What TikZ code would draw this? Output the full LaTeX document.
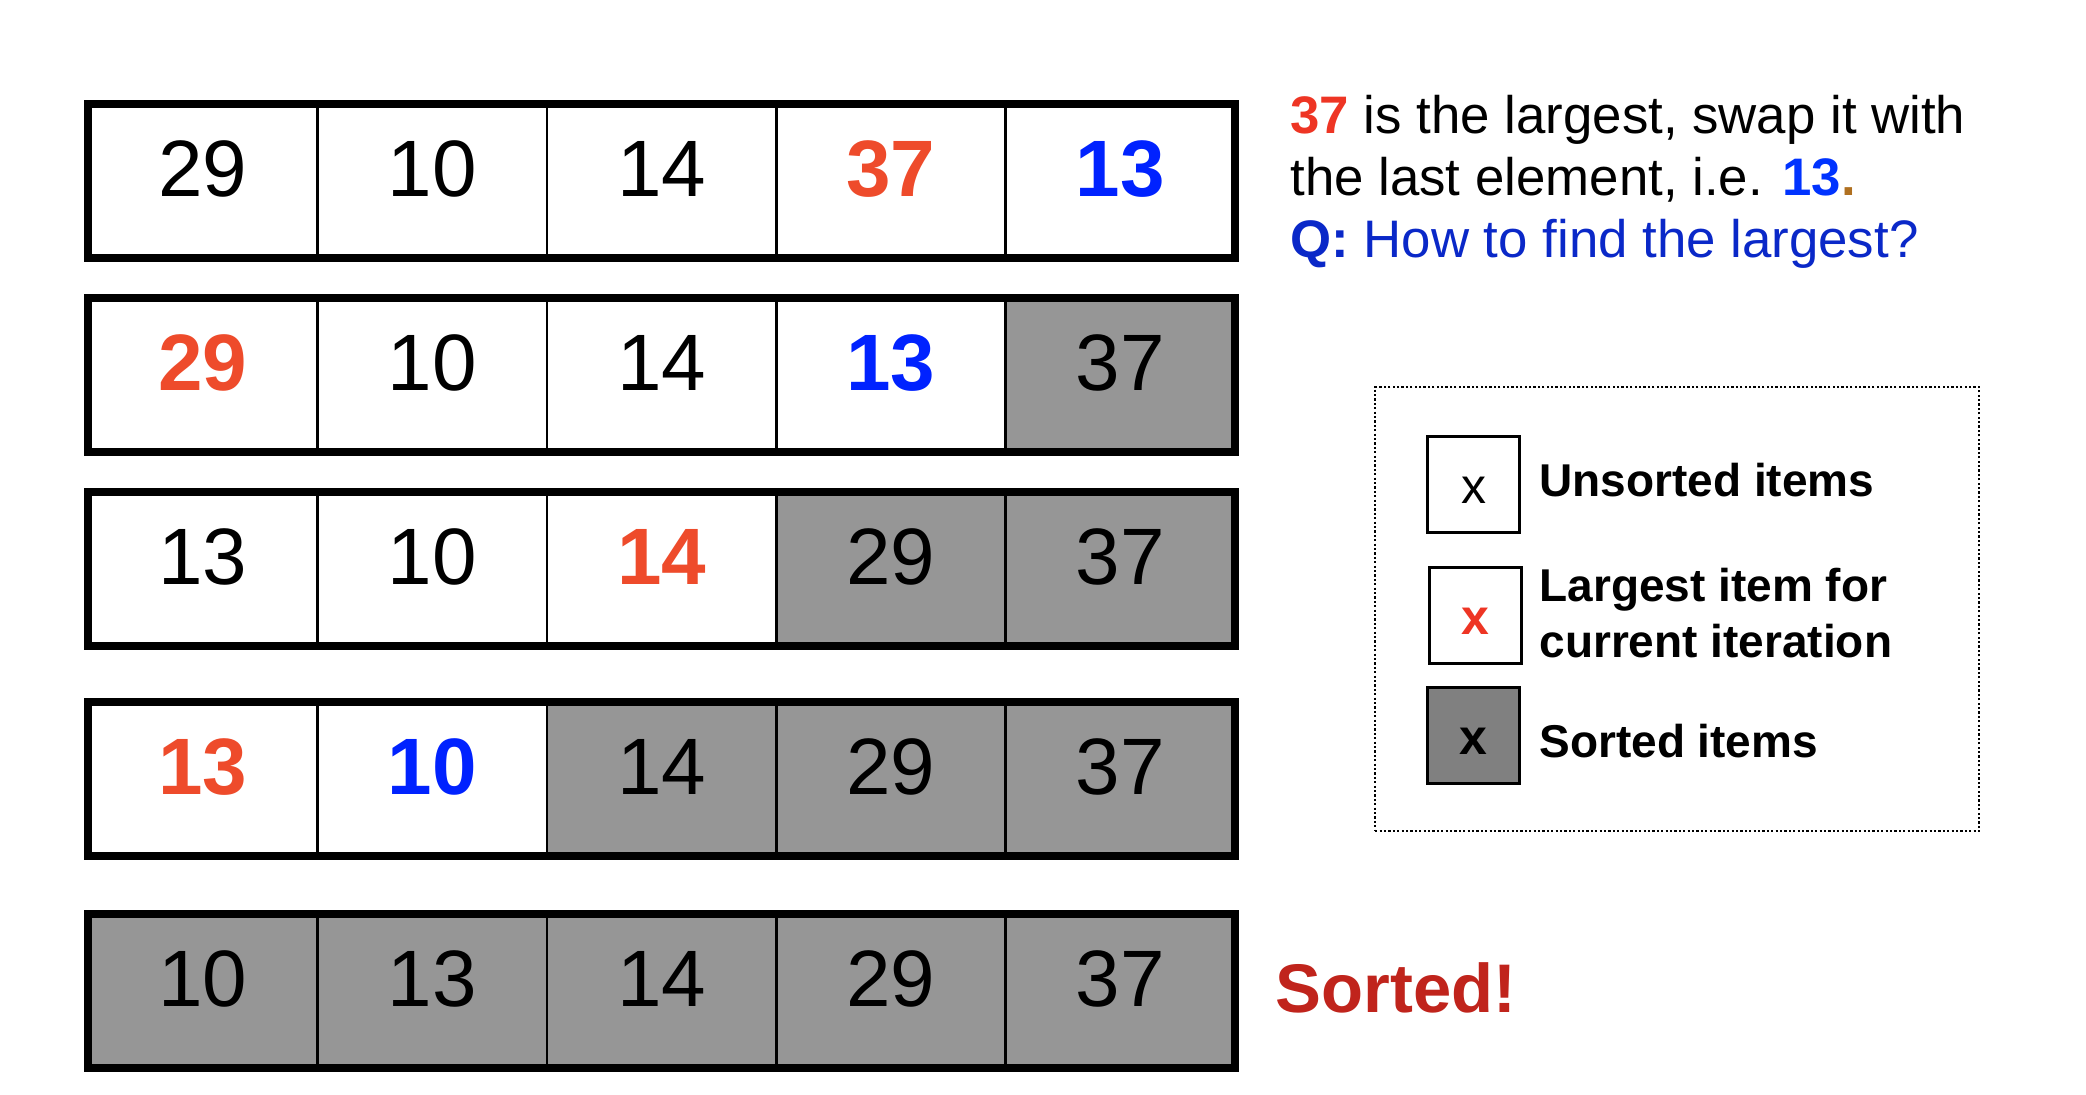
\documentclass[tikz,border=0pt]{standalone}
\usepackage{fontspec}
\setmainfont{Liberation Sans}
\definecolor{numred}{HTML}{EE4B2B}
\definecolor{numblue}{HTML}{0022FF}
\definecolor{cellgray}{HTML}{969696}
\definecolor{leggray}{HTML}{808080}
\definecolor{txtred}{HTML}{EE3524}
\definecolor{txtblue}{HTML}{0033FF}
\definecolor{qblue}{HTML}{0A28C8}
\definecolor{dotbrown}{HTML}{B07020}
\definecolor{sortred}{HTML}{C0241C}
\newcommand\numfont{\fontsize{40}{48}\selectfont}
\tikzset{
  cell/.style={draw=black, line width=1.3pt, minimum width=114.7pt, minimum height=77pt,
    inner sep=0pt, outer sep=0pt, text height=20pt, text depth=5pt, font=\numfont, anchor=north west},
  plain/.style={},
  done/.style={fill=cellgray},
  hired/.style={text=numred, font=\numfont\bfseries},
  hiblue/.style={text=numblue, font=\numfont\bfseries},
  frame/.style={draw=black, line width=3.8pt},
  txt/.style={anchor=base west, inner sep=0pt, font=\fontsize{26.4}{31}\selectfont},
  lbox/.style={draw=black, line width=1.5pt, minimum width=46pt, minimum height=48pt,
    inner sep=0pt, anchor=north west, text height=19pt, text depth=0pt, font=\fontsize{25}{30}\selectfont},
  ltxt/.style={anchor=base west, inner sep=0pt, font=\fontsize{23}{28}\selectfont\bfseries},
}
\begin{document}
\begin{tikzpicture}[x=0.5pt, y=-0.5pt]
\useasboundingbox[fill=white] (0,0) rectangle (2086,1094);

% row 1
\foreach [count=\i] \s/\t in {plain/29, plain/10, plain/14, hired/37, hiblue/13}
  \node[cell,\s] (r1c\i) at ({88+(\i-1)*229.4},104) {\t};
\draw[frame] (r1c1.north west) rectangle (r1c5.south east);
% row 2
\foreach [count=\i] \s/\t in {hired/29, plain/10, plain/14, hiblue/13, done/37}
  \node[cell,\s] (r2c\i) at ({88+(\i-1)*229.4},298) {\t};
\draw[frame] (r2c1.north west) rectangle (r2c5.south east);
% row 3
\foreach [count=\i] \s/\t in {plain/13, plain/10, hired/14, done/29, done/37}
  \node[cell,\s] (r3c\i) at ({88+(\i-1)*229.4},492) {\t};
\draw[frame] (r3c1.north west) rectangle (r3c5.south east);
% row 4
\foreach [count=\i] \s/\t in {hired/13, hiblue/10, done/14, done/29, done/37}
  \node[cell,\s] (r4c\i) at ({88+(\i-1)*229.4},702) {\t};
\draw[frame] (r4c1.north west) rectangle (r4c5.south east);
% row 5
\foreach [count=\i] \s/\t in {done/10, done/13, done/14, done/29, done/37}
  \node[cell,\s] (r5c\i) at ({88+(\i-1)*229.4},914) {\t};
\draw[frame] (r5c1.north west) rectangle (r5c5.south east);

% explanation text
\node[txt] (t1) at (1290,133) {\textcolor{txtred}{\bfseries 37} is the largest, swap it with};
\node[txt] (t2) at (1290,195) {the last element, i.e. \textcolor{txtblue}{\bfseries 13}\textcolor{dotbrown}{\bfseries .}};
\node[txt] (t3) at (1290,257) {\color{qblue}{\bfseries Q:} How to find the largest?};

% legend
\node[draw=black, line width=1.2pt, dash pattern=on 1.1pt off 1.1pt, anchor=north west,
  minimum width=302pt, minimum height=222pt, inner sep=0pt] (leg) at (1374,386) {};
\node[lbox] (lb1) at (1426,435) {x};
\node[lbox, text=txtred, font=\fontsize{25}{30}\selectfont\bfseries] (lb2) at (1428,566) {x};
\node[lbox, fill=leggray, font=\fontsize{25}{30}\selectfont\bfseries] (lb3) at (1426,686) {x};
\node[ltxt] (l1) at (1539,496) {Unsorted items};
\node[ltxt] (l2) at (1539,601) {Largest item for};
\node[ltxt] (l2b) at (1539,657) {current iteration};
\node[ltxt] (l3) at (1539,757) {Sorted items};

% sorted
\node[anchor=base west, inner sep=0pt, text=sortred, font=\fontsize{34.4}{40}\selectfont\bfseries] (done) at (1275,1012) {Sorted!};
\end{tikzpicture}
\end{document}
